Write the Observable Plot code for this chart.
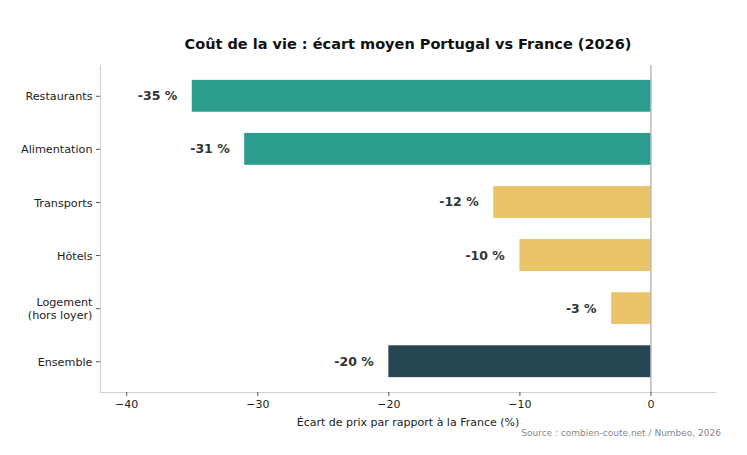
<!DOCTYPE html>
<html>
<head>
<meta charset="utf-8">
<script src="https://cdn.jsdelivr.net/npm/d3@7"></script>
<script src="https://cdn.jsdelivr.net/npm/@observablehq/plot@0.6"></script>
<style>
  html, body { margin: 0; padding: 0; background: #fff; }
  body { width: 747px; height: 455px; position: relative; overflow: hidden; font-family: "DejaVu Sans", sans-serif; }
  #title { position: absolute; left: 100px; width: 616px; top: 36px; text-align: center; font-weight: bold; font-size: 14.5px; color: #111; }
  #chart { position: absolute; left: 0; top: 55px; }
  #xlabel { position: absolute; left: 100px; width: 616px; top: 416px; text-align: center; font-size: 11px; color: #222; }
  #source { position: absolute; right: 26px; top: 428px; font-size: 9px; color: #888; }
</style>
</head>
<body>
<div id="title">Coût de la vie : écart moyen Portugal vs France (2026)</div>
<div id="chart"></div>
<div id="xlabel">Écart de prix par rapport à la France (%)</div>
<div id="source">Source : combien-coute.net / Numbeo, 2026</div>
<script>
const categories = ["Restaurants", "Alimentation", "Transports", "Hôtels", "Logement\n(hors loyer)", "Ensemble"];
const values = [-35, -31, -12, -10, -3, -20];
const groups = ["food", "food", "other", "other", "other", "total"];
const groupColors = { food: "#2A9D8F", other: "#E9C46A", total: "#264653" };
const xTicks = [-40, -30, -20, -10, 0];
const xDomain = [-42, 5];
const yDomain = [5.58, -0.58];
const barHalf = 0.3;

const data = categories.map((c, i) => ({ i, category: c, value: values[i], group: groups[i] }));

const chart = Plot.plot({
  width: 747,
  height: 390,
  marginLeft: 100,
  marginRight: 31,
  marginTop: 10,
  marginBottom: 53,
  style: { fontFamily: "DejaVu Sans, sans-serif", fontSize: "11px", color: "#222", background: "#fff" },
  x: { domain: xDomain, label: null },
  y: { domain: yDomain, label: null },
  marks: [
    Plot.rect(data, {
      x1: () => 0,
      x2: "value",
      y1: d => d.i - barHalf,
      y2: d => d.i + barHalf,
      fill: d => groupColors[d.group]
    }),
    Plot.ruleX([xDomain[0]], { stroke: "#d0d0d0", strokeWidth: 1 }),
    Plot.ruleY([yDomain[0]], { stroke: "#d0d0d0", strokeWidth: 1 }),
    Plot.ruleX([0], { stroke: "#999", strokeWidth: 1 }),
    Plot.text(data, {
      x: "value",
      y: "i",
      text: d => `${d.value} %`,
      textAnchor: "end",
      dx: -15,
      fontWeight: "bold",
      fontSize: 12.5,
      fill: "#333"
    }),
    Plot.axisX({ ticks: xTicks, tickSize: 4, tickPadding: 4, fontSize: 11, label: null, stroke: "#555", fill: "#222" }),
    Plot.axisY({ ticks: d3.range(categories.length), tickFormat: i => categories[i], tickSize: 4, tickPadding: 4, fontSize: 11.2, lineHeight: 1.15, label: null, stroke: "#555", fill: "#222" })
  ]
});
document.getElementById("chart").appendChild(chart);
</script>
</body>
</html>
